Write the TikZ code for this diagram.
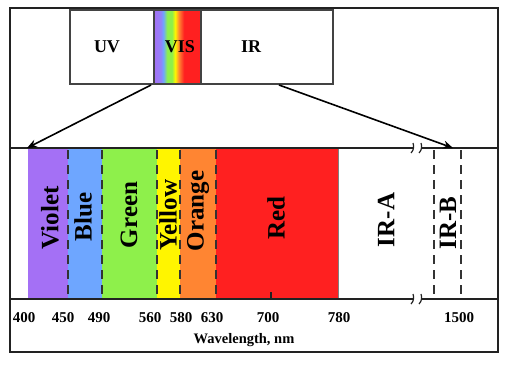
\documentclass[tikz,border=0pt]{standalone}
\usepackage{fontspec}
\setmainfont{Liberation Serif}
\usetikzlibrary{arrows.meta}
\definecolor{cvio}{HTML}{A470F5}
\definecolor{cblu}{HTML}{6EA6FF}
\definecolor{cgrn}{HTML}{8EF04B}
\definecolor{cyel}{HTML}{FFF500}
\definecolor{corg}{HTML}{FF8532}
\definecolor{cred}{HTML}{FF2020}
\definecolor{cline}{HTML}{222222}
\definecolor{cdash}{HTML}{333333}
\pgfdeclarehorizontalshading{visshade}{100bp}{color(0bp)=(cvio); color(25bp)=(cvio); color(32bp)=(cvio!70!cblu); color(35bp)=(cblu); color(39bp)=(cgrn); color(44bp)=(cgrn); color(47.5bp)=(cyel); color(51.5bp)=(corg); color(57bp)=(cred); color(100bp)=(cred)}
\tikzset{
  frameline/.style={line width=2.2pt, draw=cline},
  boxline/.style={line width=2.2pt, draw=cline!85},
  sep/.style={line width=1.8pt, draw=cdash, dash pattern=on 9pt off 6pt},
  band/.style={rotate=90, font=\fontsize{25}{25}\selectfont\bfseries, inner sep=0pt},
  toplbl/.style={font=\fontsize{18}{18}\selectfont\bfseries, inner sep=0pt},
  tick/.style={font=\fontsize{15}{15}\selectfont\bfseries, inner sep=0pt},
  arr/.style={line width=1.6pt, draw=black, -{Stealth[length=10pt,width=8pt]}},
  brk/.style={line width=1.2pt, draw=cline},
}
\begin{document}
\begin{tikzpicture}[x=1pt,y=-1pt]
\useasboundingbox (0,0) rectangle (510,367);
% colored band
\fill[cvio] (28,148) rectangle (68,299);
\fill[cblu] (68,148) rectangle (102,299);
\fill[cgrn] (102,148) rectangle (157,299);
\fill[cyel] (157,148) rectangle (180,299);
\fill[corg] (180,148) rectangle (216,299);
\fill[cred] (216,148) rectangle (338,299);
\draw[line width=1pt, draw=gray] (338,148) -- (338,299);
% VIS gradient in top box
\shade[shading=visshade] (154,10) rectangle (201,84);
% top box
\draw[boxline] (70,10) rectangle (333,84);
\draw[boxline] (154,10) -- (154,84);
\draw[boxline] (201,10) -- (201,84);
% outer frame
\draw[frameline] (10,8) rectangle (498,352);
% band horizontal lines with breaks
\draw[frameline] (10,148) -- (413,148);
\draw[frameline] (421,148) -- (498,148);
\draw[frameline] (10,299) -- (413,299);
\draw[frameline] (421,299) -- (498,299);
\draw[brk] (411,153) .. controls (414,150) and (414,146) .. (413,143);
\draw[brk] (419,153) .. controls (422,150) and (422,146) .. (421,143);
\draw[brk] (411,304) .. controls (414,301) and (414,297) .. (413,294);
\draw[brk] (419,304) .. controls (422,301) and (422,297) .. (421,294);
% dashed separators
\foreach \xx in {68,102,157,180,216,434,461} {\draw[sep] (\xx,150) -- (\xx,297);}
% tick at 700
\draw[line width=1.2pt, draw=cline] (271,292) -- (271,299);
% top labels
\node[toplbl] (uv) at (107,47) {UV};
\node[toplbl] (vis) at (180,47) {VIS};
\node[toplbl] (ir) at (251,47) {IR};
% arrows
\coordinate (a1s) at (151,85);
\coordinate (a1e) at (27,148);
\coordinate (a2s) at (279,85);
\coordinate (a2e) at (453,148);
\draw[arr] (a1s) -- (a1e);
\draw[arr] (a2s) -- (a2e);
% band labels
\node[band] (violet) at (50,218) {Violet};
\node[band] (blue) at (83,217) {Blue};
\node[band] (green) at (129,215) {Green};
\node[band] (yellow) at (168,215) {Yellow};
\node[band] (orange) at (198,211) {Orange};
\node[band] (red) at (276,218) {Red};
\node[band] (ira) at (386,220) {IR-A};
\node[band] (irb) at (448,223) {IR-B};
% tick labels
\node[tick] (t400) at (24,318) {400};
\node[tick] (t450) at (63,318) {450};
\node[tick] (t490) at (99,318) {490};
\node[tick] (t560) at (150,318) {560};
\node[tick] (t580) at (181,318) {580};
\node[tick] (t630) at (212,318) {630};
\node[tick] (t700) at (268,318) {700};
\node[tick] (t780) at (339,318) {780};
\node[tick] (t1500) at (459,318) {1500};
\node[font=\fontsize{14.5}{14.5}\selectfont\bfseries, inner sep=0pt] (wl) at (244,340) {Wavelength, nm};
\end{tikzpicture}
\end{document}
